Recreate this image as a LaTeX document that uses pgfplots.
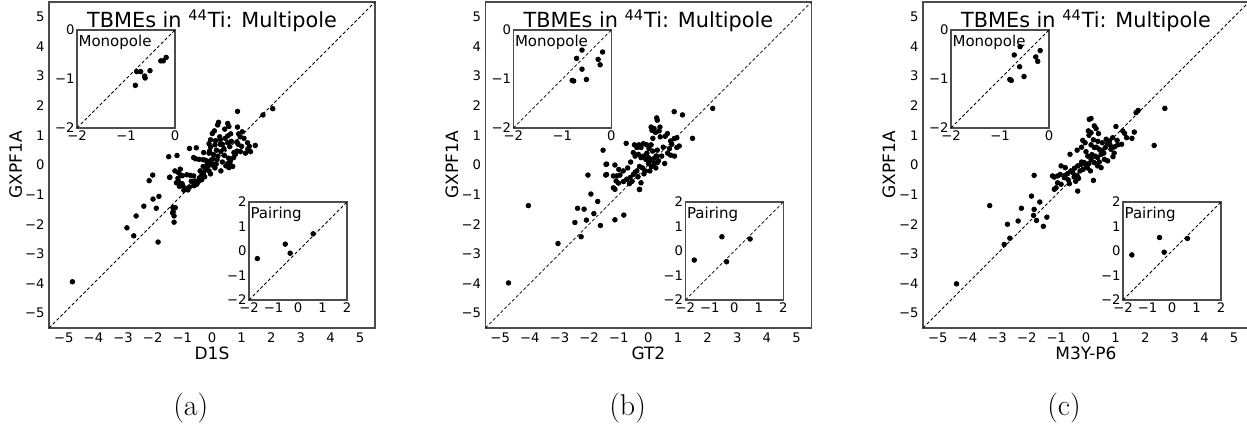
\documentclass[border=0pt]{standalone}
\usepackage{fontspec}
\setsansfont{DejaVu Sans}
\usepackage{pgfplots}
\pgfplotsset{compat=1.18}

\newcommand{\tickfont}{\sffamily\fontsize{6.6}{7}\selectfont}
\pgfplotsset{
  frame/.style={axis line style={black!70,line width=0.6pt}},
  mainax/.style={scale only axis, width=163pt, height=163pt, anchor=south west,
    xmin=-5.5, xmax=5.5, ymin=-5.5, ymax=5.5,
    xtick={-5,...,5}, ytick={-5,...,5},
    xticklabels={−5,−4,−3,−2,−1,0,1,2,3,4,5},
    yticklabels={−5,−4,−3,−2,−1,0,1,2,3,4,5},
    major tick length=0pt, frame,
    tick label style={font=\tickfont},
    xticklabel style={inner sep=1pt, yshift=-1pt},
    yticklabel style={inner sep=1pt, xshift=-1pt},
    clip=false},
  inax/.style={scale only axis, width=49pt, height=49pt, anchor=south west,
    axis background/.style={fill=white},
    major tick length=0pt, frame,
    tick label style={font=\tickfont},
    xticklabel style={inner sep=1pt},
    yticklabel style={inner sep=1pt},
    clip=false},
  mono/.style={inax, xmin=-2, xmax=0, ymin=-2, ymax=0,
    xtick={-2,-1,0}, ytick={-2,-1,0},
    xticklabels={−2,−1,0}, yticklabels={−2,−1,0}},
  pair/.style={inax, xmin=-2, xmax=2, ymin=-2, ymax=2,
    xtick={-2,...,2}, ytick={-2,...,2},
    xticklabels={−2,−1,0,1,2}, yticklabels={−2,−1,0,1,2}},
  dots/.style={only marks, mark=*, mark size=1.15pt, black},
  diag/.style={black, line width=0.4pt, dash pattern=on 1.6pt off 1.1pt},
}
\newcommand{\ttl}{\node[anchor=north, inner sep=0pt, yshift=-3.5pt,
  font=\sffamily\fontsize{10.4}{12}\selectfont] at (rel axis cs:0.5,1)
  {TBMEs in \textsuperscript{44}Ti: Multipole};}
\newcommand{\inlab}[1]{\node[anchor=north west, inner sep=0pt, xshift=0.6pt, yshift=-2.6pt,
  font=\sffamily\fontsize{7.5}{9}\selectfont] at (rel axis cs:0,1) {#1};}

\begin{document}
\begin{tikzpicture}
\useasboundingbox (0,0) rectangle (623.5pt,215.5pt);

% ---------- (a) D1S ----------
\begin{axis}[mainax, at={(24.5pt,51.5pt)}]
\addplot[diag] coordinates {(-5.5,-5.5) (5.5,5.5)};
\addplot[dots] coordinates {
(-4.71,-3.94) (-2.87,-2.12) (-2.64,-2.39) (-2.56,-1.72) (-2.30,-1.39) (-2.12,-0.53)
(-2.00,-0.34) (-1.99,-1.15) (-1.88,-1.46) (-1.79,-1.06) (-1.82,-2.60) (-1.46,0.28)
(-1.43,-0.42) (-1.18,0.32) (-1.32,-1.44) (-1.31,-1.58) (-1.28,-1.72) (-1.28,-1.93)
(-1.33,-1.62) (-1.24,-1.44) (-0.76,0.56) (-0.53,0.58)
(0.86,1.81) (1.72,1.69) (2.05,1.90) (0.22,1.44) (0.19,1.35) (0.53,1.40) (0.57,1.30)
(0.43,1.21) (0.08,1.15) (0.01,1.06) (0.86,1.28) (1.02,1.12) (1.08,0.90) (0.26,0.95)
(0.28,0.86) (0.53,0.98) (-0.10,0.72) (-0.05,0.61) (0.10,0.68) (0.28,0.70) (0.35,0.70)
(0.53,0.75) (0.60,0.62) (0.84,0.78) (0.88,0.70) (1.00,0.63) (1.26,0.63) (1.21,0.54)
(1.46,0.66) (1.13,0.40) (0.96,0.45) (0.74,0.42)
(-0.62,0.25) (-0.55,0.21) (-0.44,0.19) (-0.30,0.18) (-0.22,0.16) (-0.17,0.13)
(-0.03,0.16) (0.02,0.20) (0.05,0.02) (-0.10,0.06) (0.14,0.03) (0.17,0.18) (0.42,0.32)
(0.56,0.23) (0.62,0.14) (0.61,0.02) (0.57,-0.09) (0.53,0.05) (0.47,-0.03) (0.84,0.47)
(0.79,0.36) (0.73,0.25)
(-1.07,-0.14) (-1.13,-0.26) (-1.05,-0.34) (-1.00,-0.36) (-0.85,-0.33) (-0.73,-0.35)
(-0.62,-0.37) (-1.42,-0.41) (-1.13,-0.56) (-1.01,-0.63) (-0.98,-0.71) (-0.90,-0.79)
(-0.81,-0.84) (-0.76,-0.74) (-0.62,-0.61) (-0.56,-0.54) (-0.51,-0.65) (-0.42,-0.43)
(-0.34,-0.32) (-0.28,-0.26) (-0.22,-0.15) (-0.14,-0.03)
(-0.20,-0.10) (-0.10,-0.20) (-0.30,-0.05) (0.00,0.00) (-0.15,0.05) (0.10,-0.10)
(-0.05,-0.30) (-0.25,-0.40) (-0.35,-0.50) (-0.45,-0.55) (0.20,0.30) (0.30,0.45)
(0.05,0.35) (-0.10,0.40) (0.15,0.50) (-0.60,-0.70) (-0.70,-0.55) (-0.40,-0.20)
(0.35,0.10) (0.40,0.55) (0.65,0.80) (0.30,-0.20) (0.70,-0.05) (0.63,1.05) (0.90,1.05)
(0.45,0.90) (-0.05,0.85) (0.12,0.82) (-1.15,-0.45) (-1.20,-0.60) (-1.25,-0.20)
(-1.10,-0.72) (-0.95,-0.85) (1.20,0.75) (1.30,0.45) (0.95,0.95) (-0.08,0.47) (-0.28,0.42)
};
\ttl
\end{axis}
\begin{axis}[mono, at={(38.5pt,151.5pt)}]
\addplot[diag] coordinates {(-2,-2) (0,0)};
\addplot[dots] coordinates {(-0.81,-1.13) (-0.78,-0.85) (-0.70,-0.85) (-0.51,-0.83)
(-0.62,-0.94) (-0.61,-0.98) (-0.29,-0.63) (-0.24,-0.63) (-0.18,-0.56)};
\inlab{Monopole}
\end{axis}
\begin{axis}[pair, at={(124.5pt,65.5pt)}]
\addplot[diag] coordinates {(-2,-2) (2,2)};
\addplot[dots] coordinates {(-1.66,-0.31) (-0.52,0.28) (-0.32,-0.09) (0.62,0.70)};
\inlab{Pairing}
\end{axis}

% ---------- (b) GT2 ----------
\begin{axis}[mainax, at={(242.7pt,51.5pt)}]
\addplot[diag] coordinates {(-5.5,-5.5) (5.5,5.5)};
\addplot[dots] coordinates {
(-4.72,-3.98) (-4.05,-1.37) (-3.05,-2.65) (-2.48,-1.94) (-2.39,-1.46) (-2.27,-2.42)
(-2.17,-1.49) (-2.09,-1.86) (-2.04,-0.34) (-1.94,-0.98) (-1.84,-1.64) (-1.71,-1.23)
(-1.62,-2.04) (-1.53,0.50) (-1.41,0.03) (-1.44,-0.34) (-1.13,-1.85) (-0.83,-1.69)
(-0.75,0.73) (-0.30,-0.83)
(0.87,1.80) (1.15,1.69) (2.17,1.91) (1.49,0.90) (0.28,1.59) (0.30,1.51) (0.09,1.28)
(0.12,1.17) (0.19,1.23) (0.39,1.28) (0.36,1.15) (0.24,1.10) (0.64,1.06) (0.57,0.97)
(0.75,0.81) (0.87,0.89) (0.96,0.92) (0.79,0.70) (0.96,0.59) (1.04,0.64) (0.71,0.55)
(0.75,0.33) (0.88,0.30)
(-0.47,0.68) (-0.39,0.59) (-0.32,0.68) (-0.25,0.59) (-0.17,0.72) (-0.06,0.68)
(0.02,0.56) (0.09,0.68) (0.14,0.47) (-0.51,0.42) (-0.45,0.30) (-0.34,0.36) (-0.25,0.25)
(-0.17,0.30) (-0.09,0.19) (0.00,0.25) (0.06,0.14) (0.17,0.21) (0.28,0.30) (0.34,0.14)
(-1.43,0.02) (-1.13,0.00) (-1.41,-0.32) (-1.18,-0.37) (-1.07,-0.37) (-0.96,-0.34)
(-1.09,-0.54) (-1.01,-0.61) (-0.84,-0.56) (-1.18,-0.77) (-1.13,-0.82) (-0.73,-0.48)
(-0.62,-0.43) (-0.51,-0.32) (-0.39,-0.20) (-0.64,-0.63)
(-0.20,-0.10) (-0.10,-0.20) (0.00,0.05) (0.10,-0.05) (-0.30,-0.05) (0.20,0.05)
(-0.15,-0.30) (-0.35,-0.40) (-0.45,-0.25) (0.05,-0.20) (0.25,-0.10) (-0.05,0.40)
(0.30,0.50) (0.45,0.30) (0.50,0.60) (-0.60,0.10) (-0.70,-0.10) (-0.85,-0.20)
(-0.55,-0.55) (0.40,0.95) (0.15,0.90) (0.65,0.40) (0.55,0.05) (-1.00,-0.15)
(-0.25,-0.60) (-0.30,-0.82) (0.30,0.08) (0.26,0.30)
};
\ttl
\end{axis}
\begin{axis}[mono, at={(256.7pt,151.5pt)}]
\addplot[diag] coordinates {(-2,-2) (0,0)};
\addplot[dots] coordinates {(-0.60,-0.41) (-0.71,-0.58) (-0.18,-0.45) (-0.27,-0.60)
(-0.23,-0.71) (-0.60,-0.80) (-0.80,-1.03) (-0.77,-1.04) (-0.51,-1.01)};
\inlab{Monopole}
\end{axis}
\begin{axis}[pair, at={(342.7pt,65.5pt)}]
\addplot[diag] coordinates {(-2,-2) (2,2)};
\addplot[dots] coordinates {(-1.64,-0.37) (-0.51,0.58) (-0.32,-0.44) (0.64,0.49)};
\inlab{Pairing}
\end{axis}

% ---------- (c) M3Y-P6 ----------
\begin{axis}[mainax, at={(461.5pt,51.5pt)}]
\addplot[diag] coordinates {(-5.5,-5.5) (5.5,5.5)};
\addplot[dots] coordinates {
(-4.37,-4.01) (-3.25,-1.37) (-2.76,-2.68) (-2.57,-2.47) (-2.65,-2.00) (-2.29,-1.89)
(-2.18,-1.46) (-1.84,-1.05) (-1.75,-0.35) (-1.75,-1.50) (-1.77,-1.70) (-1.67,-1.87)
(-1.56,-1.25) (-1.44,-2.07) (-1.32,-1.76) (2.66,1.91) (2.30,0.66) (1.63,1.11)
(1.69,1.77) (1.76,1.84) (1.24,1.15) (1.30,1.07) (1.01,1.30) (1.37,0.92) (0.91,0.28)
(0.11,1.54) (0.17,1.57) (0.28,1.32) (0.34,1.23) (-0.28,-0.88) (0.25,-0.52)
(-0.54,0.36) (-0.84,-0.03) (0.08,1.15) (0.17,1.09) (0.42,1.06)
(0.68,0.87) (0.79,0.81) (0.90,0.92) (1.05,0.83) (1.07,0.68) (0.96,0.61) (0.84,0.53)
(0.65,0.59) (0.73,0.72) (0.81,0.68) (-0.11,0.83) (-0.03,0.75) (0.17,0.68) (0.28,0.59)
(0.45,0.53) (0.56,0.47) (0.39,0.25) (0.51,0.36) (-0.30,0.50) (0.06,0.30) (0.17,0.19)
(0.28,0.08) (0.39,-0.03) (0.51,-0.09) (0.62,0.19) (0.73,0.14) (-0.70,-0.09)
(-1.13,-0.37) (-1.07,-0.41) (-0.96,-0.37) (-0.87,-0.32) (-0.73,-0.43) (-0.62,-0.29)
(-0.51,-0.20) (-0.39,-0.11) (-0.28,-0.03) (-0.17,0.02) (-0.06,0.08) (-0.84,-0.65)
(-0.96,-0.60) (-1.07,-0.82) (-1.01,-0.77) (-0.56,-0.63)
(-0.20,-0.20) (-0.30,-0.35) (-0.10,-0.15) (0.00,0.00) (0.10,0.05) (-0.40,-0.40)
(-0.45,-0.25) (0.05,-0.10) (0.20,0.35) (0.30,0.30) (-0.15,0.10) (0.35,0.60)
(0.00,0.45) (-0.35,-0.55) (-0.25,-0.45) (0.15,-0.20) (0.45,0.10) (0.60,0.40)
(-0.60,-0.50) (0.25,0.85) (0.10,1.00) (-0.15,0.60) (0.40,0.80) (-0.70,-0.35)
(0.55,0.75) (1.20,0.70) (0.95,0.40) (1.55,0.90)
};
\ttl
\end{axis}
\begin{axis}[mono, at={(475.5pt,151.5pt)}]
\addplot[diag] coordinates {(-2,-2) (0,0)};
\addplot[dots] coordinates {(-0.59,-0.34) (-0.71,-0.51) (-0.18,-0.42) (-0.27,-0.55)
(-0.23,-0.64) (-0.60,-0.75) (-0.80,-1.01) (-0.77,-1.03) (-0.51,-0.95)};
\inlab{Monopole}
\end{axis}
\begin{axis}[pair, at={(561.5pt,65.5pt)}]
\addplot[diag] coordinates {(-2,-2) (2,2)};
\addplot[dots] coordinates {(-1.64,-0.16) (-0.51,0.55) (-0.32,-0.05) (0.63,0.51)};
\inlab{Pairing}
\end{axis}

% axis labels and sub-captions
\begin{scope}[every node/.style={font=\sffamily\fontsize{8.5}{10}\selectfont}]
\node[rotate=90] at (7.8pt,133pt) {GXPF1A};
\node[rotate=90] at (226pt,133pt) {GXPF1A};
\node[rotate=90] at (444.5pt,133pt) {GXPF1A};
\node at (106pt,39pt) {D1S};
\node at (324.2pt,39pt) {GT2};
\node at (543pt,39pt) {M3Y-P6};
\end{scope}
\begin{scope}[every node/.style={font=\fontsize{15}{18}\selectfont}]
\node at (95.4pt,11.5pt) {(a)};
\node at (313.8pt,11.5pt) {(b)};
\node at (532pt,11.5pt) {(c)};
\end{scope}
\end{tikzpicture}
\end{document}
